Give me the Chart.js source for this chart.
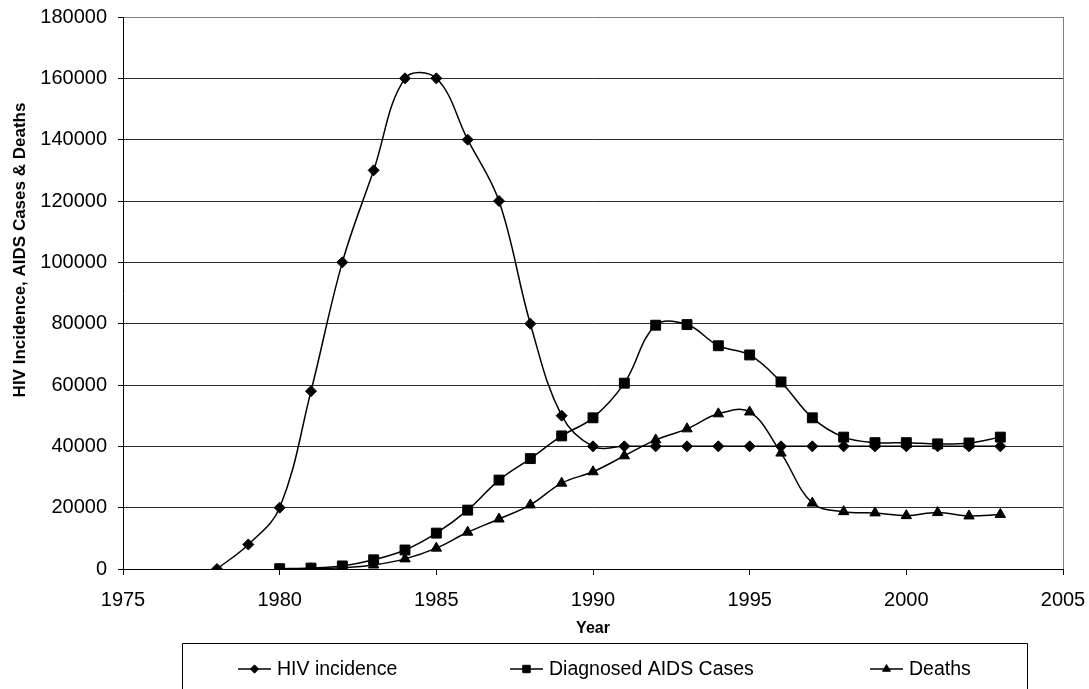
<!DOCTYPE html>
<html>
<head>
<meta charset="utf-8">
<title>HIV Incidence, AIDS Cases & Deaths</title>
<script src="https://cdn.jsdelivr.net/npm/chart.js@4/dist/chart.umd.min.js"></script>
<style>
  html, body { margin: 0; padding: 0; background: #ffffff; }
  canvas { display: block; }
</style>
</head>
<body>
<canvas id="hiv-chart" width="1089" height="689"></canvas>
<script>
// Values
const hivYears = [1978, 1979, 1980, 1981, 1982, 1983, 1984, 1985, 1986, 1987, 1988, 1989, 1990,
  1991, 1992, 1993, 1994, 1995, 1996, 1997, 1998, 1999, 2000, 2001, 2002, 2003];
const hivIncidence = [0, 8000, 20000, 58000, 100000, 130000, 160000, 160000, 140000, 120000, 80000, 50000, 40000,
  40000, 40000, 40000, 40000, 40000, 40000, 40000, 40000, 40000, 40000, 40000, 40000, 40000];

const aidsYears = [1980, 1981, 1982, 1983, 1984, 1985, 1986, 1987, 1988, 1989, 1990, 1991,
  1992, 1993, 1994, 1995, 1996, 1997, 1998, 1999, 2000, 2001, 2002, 2003];
const aidsCases = [100, 300, 1000, 3000, 6200, 11700, 19200, 29000, 36000, 43400, 49300, 60600,
  79500, 79700, 72800, 69800, 61000, 49300, 43000, 41200, 41200, 40800, 41100, 43000];

const deathYears = [1981, 1982, 1983, 1984, 1985, 1986, 1987, 1988, 1989, 1990, 1991, 1992,
  1993, 1994, 1995, 1996, 1997, 1998, 1999, 2000, 2001, 2002, 2003];
const deaths = [100, 400, 1300, 3300, 6800, 12000, 16300, 20900, 28000, 31700, 36900, 42100,
  45700, 50600, 51200, 37800, 21500, 18700, 18300, 17400, 18400, 17300, 17800];

const seriesLabels = ['HIV incidence', 'Diagnosed AIDS Cases', 'Deaths'];
const xTickValues = [1975, 1980, 1985, 1990, 1995, 2000, 2005];
const yTickValues = [0, 20000, 40000, 60000, 80000, 100000, 120000, 140000, 160000, 180000];
const yAxisTitle = 'HIV Incidence, AIDS Cases & Deaths';

const FONT = "'Liberation Sans', Arial, sans-serif";

function toPoints(xs, ys) {
  return xs.map((x, i) => ({ x: x, y: ys[i] }));
}

// plot frame: gray right border like the Excel plot area
const plotBorder = {
  id: 'plotBorder',
  afterDatasetsDraw(chart) {
    const { ctx, chartArea } = chart;
    ctx.save();
    ctx.strokeStyle = '#808080';
    ctx.lineWidth = 1;
    ctx.beginPath();
    ctx.moveTo(Math.round(chartArea.right) + 0.5, chartArea.top);
    ctx.lineTo(Math.round(chartArea.right) + 0.5, chartArea.bottom);
    ctx.stroke();
    ctx.restore();
  }
};

// y title sits a bit above the middle of the plot in the original, so draw it by hand
const sideTitle = {
  id: 'sideTitle',
  afterDraw(chart) {
    const ctx = chart.ctx;
    ctx.save();
    ctx.translate(20, 250);
    ctx.rotate(-Math.PI / 2);
    ctx.font = 'bold 17px ' + FONT;
    ctx.fillStyle = '#000000';
    ctx.textAlign = 'center';
    ctx.textBaseline = 'middle';
    ctx.fillText(yAxisTitle, 0, 0);
    ctx.restore();
  }
};

// boxed legend below the axis title, line + marker for each series
const boxedLegend = {
  id: 'boxedLegend',
  afterDraw(chart) {
    const ctx = chart.ctx;
    const itemX = [238, 510, 870];
    const rowY = 669;
    ctx.save();
    ctx.strokeStyle = '#000000';
    ctx.lineWidth = 1;
    ctx.beginPath();
    ctx.moveTo(182.5, 700);
    ctx.lineTo(182.5, 643.5);
    ctx.lineTo(1027.5, 643.5);
    ctx.lineTo(1027.5, 700);
    ctx.stroke();

    chart.data.datasets.forEach((ds, i) => {
      const x0 = itemX[i];
      ctx.strokeStyle = '#000000';
      ctx.lineWidth = 1.5;
      ctx.beginPath();
      ctx.moveTo(x0, rowY);
      ctx.lineTo(x0 + 33, rowY);
      ctx.stroke();

      ctx.fillStyle = '#000000';
      ctx.lineWidth = 1;
      Chart.helpers.drawPoint(ctx, {
        pointStyle: ds.pointStyle,
        radius: ds.pointRadius * 0.75,
        borderWidth: 1,
        rotation: 0
      }, x0 + 16.5, rowY);

      ctx.font = '19.5px ' + FONT;
      ctx.textAlign = 'left';
      ctx.textBaseline = 'middle';
      ctx.fillText(ds.label, x0 + 39, rowY + 1);
    });
    ctx.restore();
  }
};

const ctx = document.getElementById('hiv-chart');

new Chart(ctx, {
  type: 'line',
  data: {
    datasets: [{
      label: seriesLabels[0],
      data: toPoints(hivYears, hivIncidence),
      pointStyle: 'rectRot',
      pointRadius: 5.5
    }, {
      label: seriesLabels[1],
      data: toPoints(aidsYears, aidsCases),
      pointStyle: 'rect',
      pointRadius: 7
    }, {
      label: seriesLabels[2],
      data: toPoints(deathYears, deaths),
      pointStyle: 'triangle',
      pointRadius: 6
    }]
  },
  options: {
    responsive: false,
    animation: false,
    devicePixelRatio: 1,
    layout: {
      padding: { top: 17, right: 26, bottom: 0, left: 0 }
    },
    elements: {
      line: {
        borderColor: '#000000',
        borderWidth: 1.5,
        tension: 0.38,
        fill: false
      },
      point: {
        borderColor: '#000000',
        backgroundColor: '#000000',
        borderWidth: 1,
        hoverRadius: 6
      }
    },
    plugins: {
      legend: { display: false },
      tooltip: { enabled: false }
    },
    scales: {
      x: {
        type: 'linear',
        min: 1975,
        max: 2005,
        afterBuildTicks: (axis) => {
          axis.ticks = xTickValues.map(v => ({ value: v }));
        },
        afterFit: (axis) => {
          axis.height = 120;
          axis.paddingLeft = 0;
          axis.paddingRight = 0;
        },
        border: { color: '#000000', width: 1 },
        grid: {
          drawOnChartArea: false,
          drawTicks: true,
          tickLength: 6,
          tickColor: '#000000'
        },
        ticks: {
          color: '#000000',
          padding: 13,
          maxRotation: 0,
          font: { family: FONT, size: 20 },
          callback: (v) => String(v)
        },
        title: {
          display: true,
          text: 'Year',
          color: '#000000',
          font: { family: FONT, size: 16, weight: 'bold' },
          padding: { top: 0, bottom: 51 }
        }
      },
      y: {
        min: 0,
        max: 180000,
        afterBuildTicks: (axis) => {
          axis.ticks = yTickValues.map(v => ({ value: v }));
        },
        afterFit: (axis) => {
          axis.width = 123;
          axis.paddingTop = 0;
          axis.paddingBottom = 0;
        },
        border: { color: '#000000', width: 1 },
        grid: {
          color: (c) => (c.tick && c.tick.value === 180000 ? '#808080' : '#2a2a2a'),
          lineWidth: 1,
          tickLength: 5,
          tickColor: '#000000'
        },
        ticks: {
          color: '#000000',
          padding: 11,
          font: { family: FONT, size: 20 },
          callback: (v) => String(v)
        },
        title: { display: false }
      }
    }
  },
  plugins: [plotBorder, sideTitle, boxedLegend]
});
</script>
</body>
</html>
